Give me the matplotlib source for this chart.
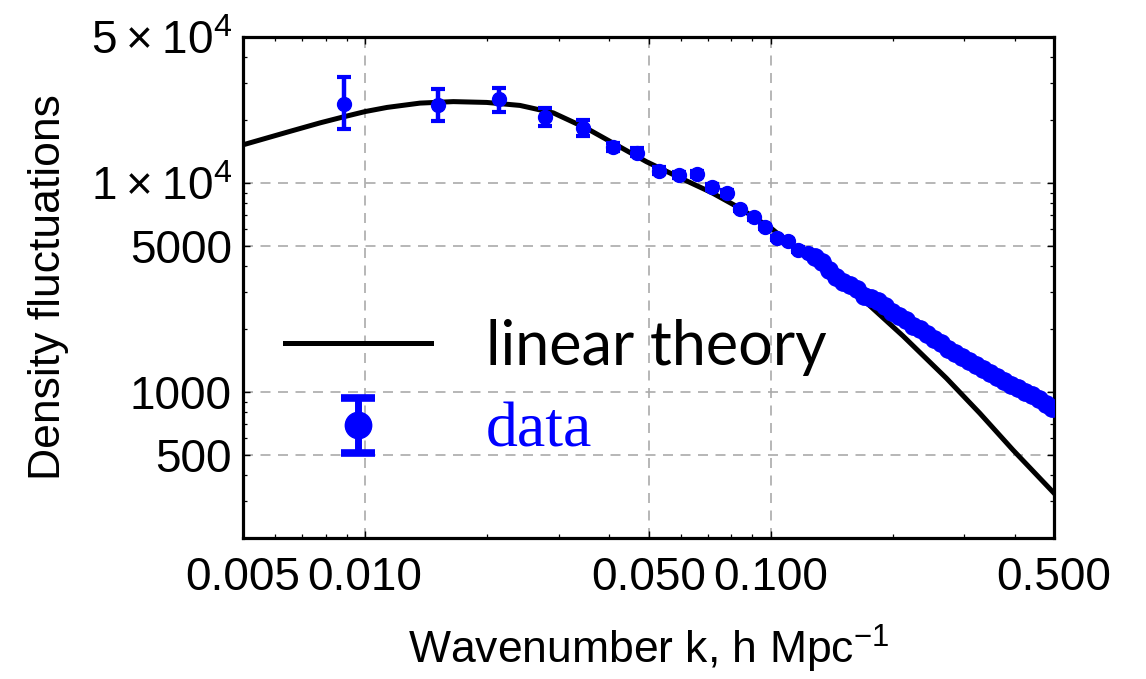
import numpy as np
import matplotlib
matplotlib.use('Agg')
import matplotlib.pyplot as plt
from matplotlib.ticker import FixedLocator, FixedFormatter, LogLocator, NullFormatter
from matplotlib.container import ErrorbarContainer
from matplotlib.legend_handler import HandlerErrorbar

# ---------------- data ----------------
# linear theory curve (k in h/Mpc, P)
k_theory = [0.005, 0.006533, 0.007746, 0.008841, 0.01, 0.01133, 0.01366, 0.01651,
            0.01995, 0.0241, 0.02911, 0.03519, 0.04078, 0.04946, 0.05975, 0.07164,
            0.08398, 0.1006, 0.1162, 0.1286, 0.1539, 0.2123, 0.2715, 0.3281,
            0.3963, 0.5]
P_theory = [15235, 17680, 19410, 20730, 21980, 23010, 24130, 24530,
            24310, 23520, 21670, 18270, 15575, 12640, 10600, 8990,
            7581, 6051, 4802, 4302, 3268, 1851, 1163, 791,
            527, 328]

# data points with error bars
k_data = [0.00888, 0.01516, 0.02143, 0.02779, 0.0344, 0.04078, 0.0469, 0.05297,
          0.05943, 0.06572, 0.0719, 0.0782, 0.0843, 0.0910, 0.0970, 0.1038,
          0.1105, 0.1169, 0.1238]
P_data = [23850, 23660, 25180, 20660, 18320, 14860, 14000, 11450,
          10870, 11040, 9570, 8960, 7510, 6850, 6165, 5460,
          5260, 4800, 4630]
err_lo = [5730, 3750, 3190, 1860, 1490, 700, 600, 400, 350, 350, 300, 250,
          200, 170, 150, 130, 120, 110, 100]
err_hi = [8250, 4470, 3290, 2140, 1730, 750, 650, 420, 370, 370, 310, 260,
          210, 180, 160, 140, 130, 120, 110]

# densely sampled data at high k (error bars smaller than markers)
k_dense = [0.1286, 0.1338, 0.1392, 0.1449, 0.1508, 0.1569, 0.1632, 0.1698, 0.1767,
           0.1839, 0.1913, 0.1991, 0.2072, 0.2156, 0.2243, 0.2333, 0.2428, 0.2526,
           0.2629, 0.2735, 0.2846, 0.2962, 0.3082, 0.3206, 0.3336, 0.3471, 0.3612,
           0.3759, 0.3911, 0.4070, 0.4234, 0.4406, 0.4585, 0.4771, 0.4935]
P_dense = [4423, 4209, 3855, 3568, 3378, 3250, 3094, 2895, 2817,
           2711, 2580, 2402, 2298, 2199, 2060, 1993, 1886, 1795,
           1708, 1599, 1530, 1473, 1401, 1341, 1291, 1228, 1182,
           1131, 1082, 1041, 1002, 964, 923, 874, 836]

x_ticks = [0.005, 0.01, 0.05, 0.1, 0.5]
x_labels = ['0.005', '0.010', '0.050', '0.100', '0.500']
y_ticks = [500, 1000, 5000, 10000, 50000]
y_labels = ['500', '1000', '5000', '1\u2009×\u200910$^{4}$', '5\u2009×\u200910$^{4}$']

# ---------------- style ----------------
sans = 'Liberation Sans'
plt.rcParams['font.family'] = [sans, 'DejaVu Sans']
plt.rcParams['mathtext.fontset'] = 'custom'
plt.rcParams['mathtext.rm'] = sans
plt.rcParams['mathtext.it'] = sans
plt.rcParams['mathtext.bf'] = sans
plt.rcParams['axes.unicode_minus'] = True

fig = plt.figure(figsize=(11.46, 6.79), dpi=100)
ax = fig.add_axes([243 / 1146, 1 - 538 / 679, (1054 - 243) / 1146, (538 - 37) / 679])
ax.set_xscale('log')
ax.set_yscale('log')

ax.plot(k_theory, P_theory, color='black', lw=3.6, zorder=3)
ax.errorbar(k_data, P_data, yerr=[err_lo, err_hi], fmt='o', color='blue',
            ms=10, elinewidth=3.2, capsize=5, capthick=3, zorder=4)
ax.plot(k_dense, P_dense, 'o', color='blue', ms=12.5, zorder=4)

ax.set_xlim(0.005, 0.5)
ax.set_ylim(200, 50000)

ax.xaxis.set_major_locator(FixedLocator(x_ticks))
ax.xaxis.set_major_formatter(FixedFormatter(x_labels))
ax.xaxis.set_minor_locator(LogLocator(base=10, subs=range(2, 10), numticks=50))
ax.xaxis.set_minor_formatter(NullFormatter())
ax.yaxis.set_major_locator(FixedLocator(y_ticks))
ax.yaxis.set_major_formatter(FixedFormatter(y_labels))
ax.yaxis.set_minor_locator(LogLocator(base=10, subs=range(2, 10), numticks=50))
ax.yaxis.set_minor_formatter(NullFormatter())

ax.tick_params(which='both', direction='in', top=True, right=True, labelsize=33)
ax.tick_params(which='major', length=5, width=1.0)
ax.tick_params(which='minor', length=3, width=0.9)
ax.tick_params(axis='x', pad=13)
ax.tick_params(axis='y', pad=8)
for s in ax.spines.values():
    s.set_linewidth(2.3)

ax.grid(True, which='major', ls=(0, (6, 4.5)), color='#aaaaaa', lw=1.2, zorder=0)

ax.set_xlabel('Wavenumber k, h Mpc$^{-1}$', fontsize=32)
ax.set_ylabel('Density fluctuations', fontsize=32)
ax.xaxis.set_label_coords(0.5, -0.17)
ax.yaxis.set_label_coords(-0.215, 0.5)

# legend (proxy handles sized like the reference legend)
proxy_line, = ax.plot([], [], color='black', lw=3.6)
proxy_eb = ax.errorbar([np.nan], [np.nan], yerr=[1.0], fmt='o', color='blue', ms=19,
                       elinewidth=5, capsize=12.5, capthick=5.5)
leg = ax.legend([proxy_line, proxy_eb], ['linear theory', 'data'],
                loc='center left', bbox_to_anchor=(0.052, 0.296),
                frameon=False, borderpad=0, borderaxespad=0,
                handlelength=2.38, handletextpad=0.9, labelspacing=0.44,
                handler_map={ErrorbarContainer: HandlerErrorbar(yerr_size=0.45)},
                prop={'family': 'Lato', 'size': 44})
t0, t1 = leg.get_texts()
t1.set_fontfamily('Liberation Serif')
t1.set_fontsize(46)
t1.set_color('blue')

fig.savefig('out.png', dpi=100)
